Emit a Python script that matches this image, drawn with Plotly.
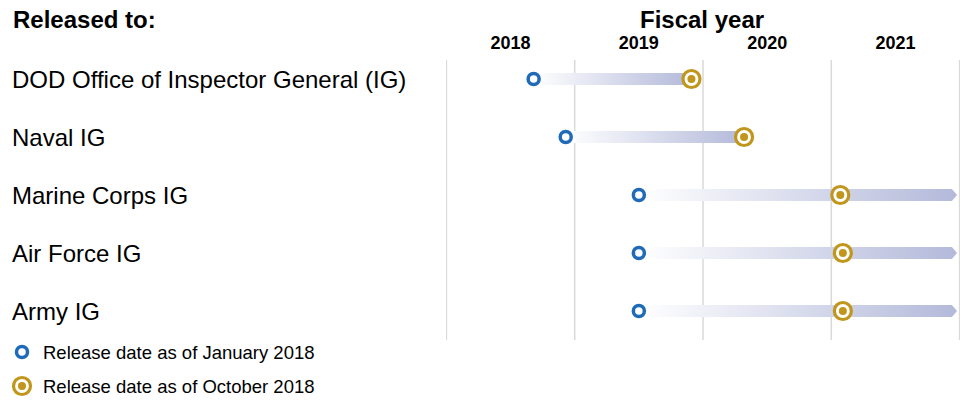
import plotly.graph_objects as go

# ---------------- data ----------------
categories = ["DOD Office of Inspector General (IG)", "Naval IG", "Marine Corps IG",
              "Air Force IG", "Army IG"]
jan2018_release = [2018.68, 2018.93, 2019.50, 2019.50, 2019.50]   # fiscal-year position
oct2018_release = [2019.91, 2020.32, 2021.07, 2021.09, 2021.09]
open_ended = [False, False, True, True, True]
fiscal_years = [2018, 2019, 2020, 2021]
year_labels = ["2018", "2019", "2020", "2021"]
legend_labels = ["Release date as of January 2018", "Release date as of October 2018"]

# ---------------- style / layout ----------------
W, H = 967, 401
PL, PR, PT, PB = 446, 960, 60, 340
ROW_PX = 58
FONT = "Arial, Liberation Sans, sans-serif"
BLUE = "#1f6bb8"
GOLD = "#c0961c"
BAR_END = "#b3b9da"
GRID = "#d9d9d9"
HALF = 6 / ROW_PX          # half bar thickness in row units
AXIS_END = fiscal_years[-1] + 1
ARROW_END = AXIS_END - 0.02
ARROW_HEAD = 0.04

def px(x):
    return x / W

def py(y):
    return 1 - y / H

fig = go.Figure()

# gradient bars
for i, (s, e, oe) in enumerate(zip(jan2018_release, oct2018_release, open_ended)):
    if oe:
        xs = [s, ARROW_END - ARROW_HEAD, ARROW_END, ARROW_END - ARROW_HEAD, s, s]
        ys = [i - HALF, i - HALF, i, i + HALF, i + HALF, i - HALF]
    else:
        xs = [s, e, e, s, s]
        ys = [i - HALF, i - HALF, i + HALF, i + HALF, i - HALF]
    fig.add_trace(go.Scatter(
        x=xs, y=ys, mode="lines", fill="toself", line=dict(width=0),
        fillgradient=dict(type="horizontal",
                          colorscale=[[0, "rgba(255,255,255,1)"], [1, BAR_END]]),
        hoverinfo="skip", showlegend=False))

rows = list(range(len(categories)))

# January 2018 markers (blue ring)
fig.add_trace(go.Scatter(
    x=jan2018_release, y=rows, mode="markers",
    marker=dict(symbol="circle", size=11, color="white",
                line=dict(color=BLUE, width=3.5)),
    showlegend=False, name=legend_labels[0]))

# October 2018 markers (gold ring + dot)
fig.add_trace(go.Scatter(
    x=oct2018_release, y=rows, mode="markers",
    marker=dict(symbol="circle", size=17, color="white",
                line=dict(color=GOLD, width=3.2)),
    showlegend=False, name=legend_labels[1]))
fig.add_trace(go.Scatter(
    x=oct2018_release, y=rows, mode="markers",
    marker=dict(symbol="circle", size=8, color=GOLD, line=dict(width=0)),
    showlegend=False, hoverinfo="skip"))

# manual legend (overlay pixel axis)
leg_y = [352, 386]
fig.add_trace(go.Scatter(
    x=[22], y=[leg_y[0]], xaxis="x2", yaxis="y2", mode="markers",
    marker=dict(symbol="circle", size=11, color="white", line=dict(color=BLUE, width=3.5)),
    showlegend=False, hoverinfo="skip"))
fig.add_trace(go.Scatter(
    x=[22], y=[leg_y[1]], xaxis="x2", yaxis="y2", mode="markers",
    marker=dict(symbol="circle", size=17, color="white", line=dict(color=GOLD, width=3.2)),
    showlegend=False, hoverinfo="skip"))
fig.add_trace(go.Scatter(
    x=[22], y=[leg_y[1]], xaxis="x2", yaxis="y2", mode="markers",
    marker=dict(symbol="circle", size=8, color=GOLD, line=dict(width=0)),
    showlegend=False, hoverinfo="skip"))

# vertical year-boundary gridlines
shapes = []
for b in fiscal_years + [AXIS_END]:
    shapes.append(dict(type="line", xref="x", yref="paper", x0=b, x1=b,
                       y0=1 - PB / H, y1=1 - PT / H, layer="below",
                       line=dict(color=GRID, width=1.5)))

annotations = []
# header texts
annotations.append(dict(text="<b>Released to:</b>", x=px(11), y=py(19), xref="paper", yref="paper",
                        xanchor="left", yanchor="middle", showarrow=False,
                        font=dict(size=24, color="black", family=FONT)))
annotations.append(dict(text="<b>Fiscal year</b>", x=px(702), y=py(19), xref="paper", yref="paper",
                        xanchor="center", yanchor="middle", showarrow=False,
                        font=dict(size=24, color="black", family=FONT)))
# category labels
for i, c in enumerate(categories):
    annotations.append(dict(text=c, x=px(10), y=i, xref="paper", yref="y",
                            xanchor="left", yanchor="middle", showarrow=False,
                            font=dict(size=24, color="black", family=FONT)))
# legend texts
for t, yy in zip(legend_labels, leg_y):
    annotations.append(dict(text=t, x=px(41), y=py(yy), xref="paper", yref="paper",
                            xanchor="left", yanchor="middle", showarrow=False,
                            font=dict(size=18.5, color="black", family=FONT)))

fig.update_layout(
    width=W, height=H,
    margin=dict(l=0, r=0, t=0, b=0),
    paper_bgcolor="white", plot_bgcolor="rgba(0,0,0,0)",
    showlegend=False,
    xaxis=dict(domain=[px(PL), px(PR)], range=[fiscal_years[0] - 0.003, AXIS_END + 0.003],
               side="top", tickvals=[y + 0.5 for y in fiscal_years], ticktext=year_labels,
               tickfont=dict(size=18, color="black", family=FONT, weight="bold"),
               ticks="outside", ticklen=3, tickcolor="rgba(0,0,0,0)",
               showgrid=False, zeroline=False, showline=False),
    yaxis=dict(domain=[1 - PB / H, 1 - PT / H],
               range=[len(categories) - 1 + (PB - 311) / ROW_PX, -(79 - PT) / ROW_PX],
               showticklabels=False, showgrid=False, zeroline=False, showline=False),
    xaxis2=dict(domain=[0, 1], range=[0, W], visible=False, anchor="y2"),
    yaxis2=dict(domain=[0, 1], range=[H, 0], visible=False, anchor="x2"),
    shapes=shapes,
    annotations=annotations,
    font=dict(family=FONT, color="black"),
)

fig.write_html("out.html", config={"displayModeBar": False},
               post_script="document.body.style.margin='0';")
